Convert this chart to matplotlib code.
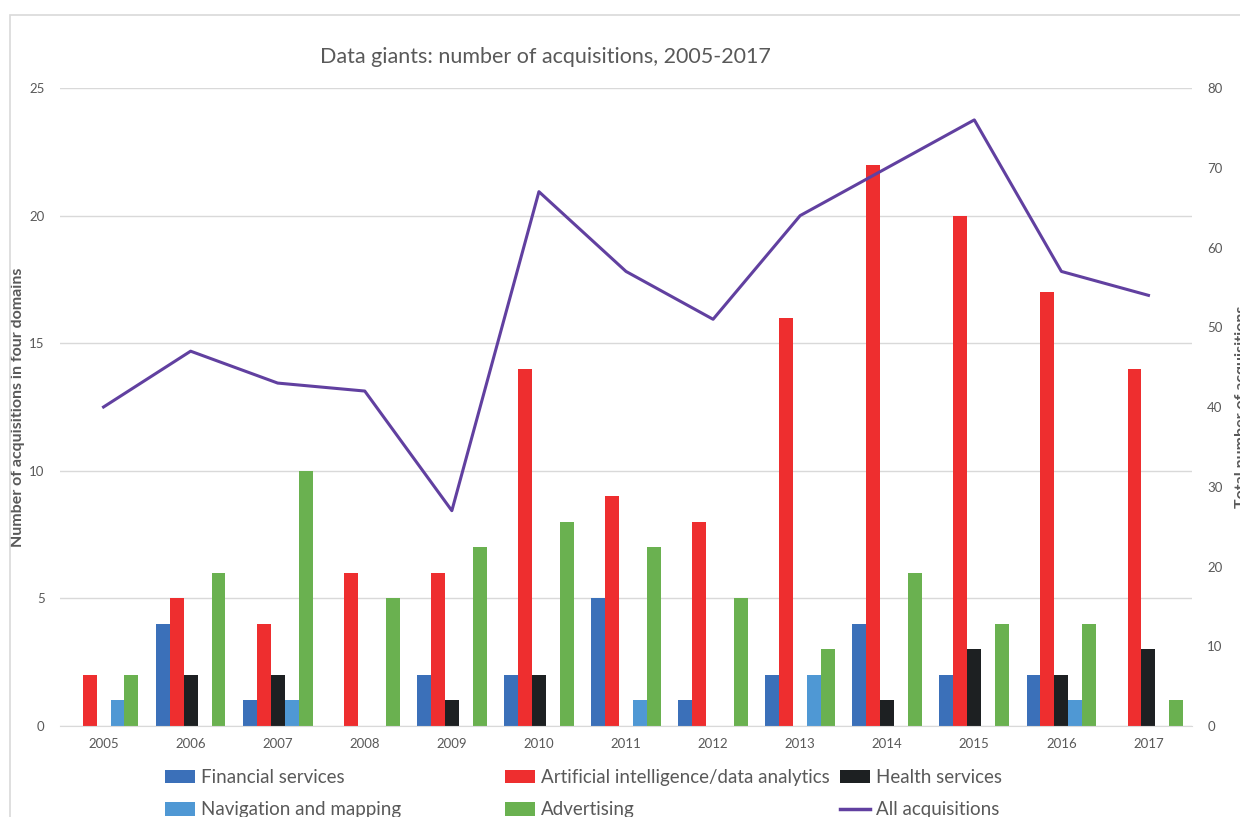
import numpy as np
import matplotlib
matplotlib.use("Agg")
import matplotlib.pyplot as plt
from matplotlib.patches import Rectangle, Patch
from matplotlib.lines import Line2D

plt.rcParams["font.family"] = ["Lato", "DejaVu Sans"]

years = ["2005", "2006", "2007", "2008", "2009", "2010", "2011",
         "2012", "2013", "2014", "2015", "2016", "2017"]
financial = [0, 4, 1, 0, 2, 2, 5, 1, 2, 4, 2, 2, 0]
ai_analytics = [2, 5, 4, 6, 6, 14, 9, 8, 16, 22, 20, 17, 14]
health = [0, 2, 2, 0, 1, 2, 0, 0, 0, 1, 3, 2, 3]
navigation = [1, 0, 1, 0, 0, 0, 1, 0, 2, 0, 0, 1, 0]
advertising = [2, 6, 10, 5, 7, 8, 7, 5, 3, 6, 4, 4, 1]
all_acq = [40, 47, 43, 42, 27, 67, 57, 51, 64, 70, 76, 57, 54]

series = [
    ("Financial services", financial, "#3b70b9"),
    ("Artificial intelligence/data analytics", ai_analytics, "#ee2e2f"),
    ("Health services", health, "#1d2022"),
    ("Navigation and mapping", navigation, "#4f98d4"),
    ("Advertising", advertising, "#6ab150"),
]
line_color = "#6140a0"
grey = "#595959"

fig = plt.figure(figsize=(12.4, 8.17), dpi=100)
ax = fig.add_axes([60 / 1240, 1 - 726 / 817, (1192 - 60) / 1240, (726 - 88) / 817])

x = np.arange(len(years))
w = 0.16
for i, (name, vals, col) in enumerate(series):
    ax.bar(x + (i - 2) * w, vals, width=w, color=col, zorder=2)

ax.set_xlim(-0.5, len(years) - 0.5)
ax.set_ylim(0, 25)
ax.set_yticks([0, 5, 10, 15, 20, 25])
ax.set_xticks(x)
ax.set_xticklabels(years)
ax.grid(axis="y", color="#d9d9d9", linewidth=1, zorder=0)
for s in ["top", "right", "left"]:
    ax.spines[s].set_visible(False)
ax.spines["bottom"].set_color("#d9d9d9")
ax.tick_params(axis="both", length=0, colors=grey, labelsize=9.5)
ax.tick_params(axis="y", pad=11)
ax.tick_params(axis="x", pad=9)
ax.set_ylabel("Number of acquisitions in four domains", color=grey,
              fontsize=11.5, fontweight="bold")
ax.yaxis.set_label_coords(-35 / 1132, 0.5)

ax2 = ax.twinx()
ax2.plot(x, all_acq, color=line_color, linewidth=2.2, zorder=3)
ax2.set_ylim(0, 80)
ax2.set_yticks(range(0, 81, 10))
for s in ax2.spines.values():
    s.set_visible(False)
ax2.tick_params(axis="y", length=0, colors=grey, labelsize=9.5, pad=11)
# the reference crops this label at the right edge
ax2.set_ylabel("Total number of acquisitions", color=grey,
               fontsize=11.5, fontweight="bold")
ax2.yaxis.set_label_coords(1 + 43 / 1132, 0.5)

fig.text(545 / 1240, 1 - 57 / 817, "Data giants: number of acquisitions, 2005-2017",
         ha="center", va="center", fontsize=15.5, color=grey)

# outer chart border (cropped on right and bottom)
fig.patches.append(Rectangle((10 / 1240, -0.1), 1.2, 1 - 15 / 817 + 0.1,
                             transform=fig.transFigure, fill=False,
                             edgecolor="#d9d9d9", linewidth=1.2))

handles = {name: Patch(facecolor=col) for name, _, col in series}
handles["All acquisitions"] = Line2D([0], [0], color=line_color, linewidth=2.5)
columns = [
    (165, ["Financial services", "Navigation and mapping"]),
    (505, ["Artificial intelligence/data analytics", "Advertising"]),
    (840, ["Health services", "All acquisitions"]),
]
for xpos, names in columns:
    fig.legend([handles[k] for k in names], names, ncol=1, frameon=False,
               loc="upper left", bbox_to_anchor=(xpos / 1240, 1 - 769 / 817),
               fontsize=13.5, labelcolor=grey, handlelength=1.6,
               handleheight=0.75, handletextpad=0.3, labelspacing=0.82,
               borderpad=0, borderaxespad=0)

fig.savefig("out.png", dpi=100)
